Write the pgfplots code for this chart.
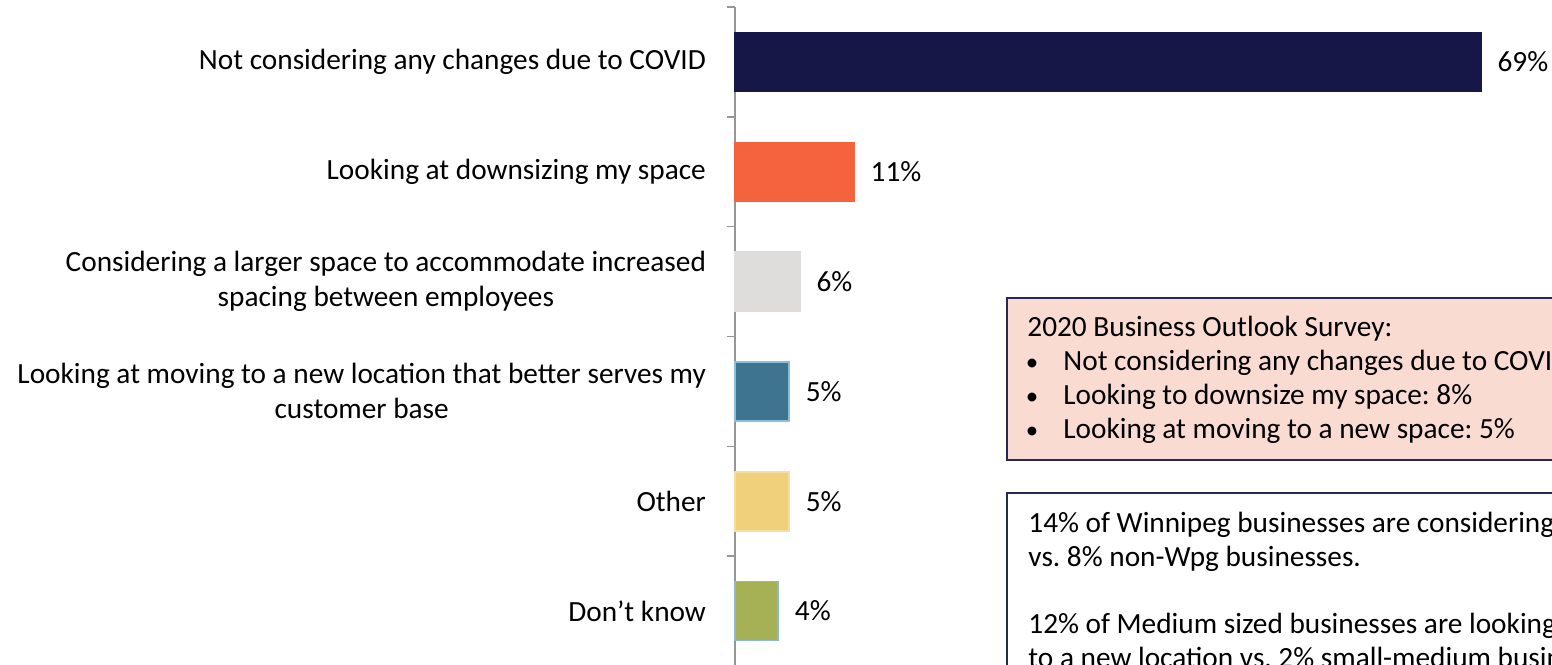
\documentclass[border=0pt]{standalone}
\usepackage{fontspec}
\setmainfont{Carlito}
\usepackage{pgfplots}
\pgfplotsset{compat=1.18}
\frenchspacing

\definecolor{barnavy}{RGB}{23,23,71}
\definecolor{barorange}{RGB}{244,99,61}
\definecolor{bargray}{RGB}{222,221,219}
\definecolor{barteal}{RGB}{62,116,143}
\definecolor{barteale}{RGB}{141,189,216}
\definecolor{baryellow}{RGB}{241,208,124}
\definecolor{baryellowe}{RGB}{246,222,160}
\definecolor{barolive}{RGB}{166,176,85}
\definecolor{barolivee}{RGB}{141,184,208}
\definecolor{axisgray}{RGB}{150,150,150}
\definecolor{boxpink}{RGB}{250,219,210}
\definecolor{boxline}{RGB}{40,40,85}

\newcommand{\lbl}{\fontsize{14.65}{17.5}\selectfont}

\begin{document}
\begin{tikzpicture}
\useasboundingbox (0,0) rectangle (776pt,-332pt);
\clip (0,0) rectangle (776pt,-332pt);

\begin{axis}[
  at={(367.5pt,-3.5pt)}, anchor=north west,
  scale only axis, width=408.5pt, height=329.5pt,
  xmin=0, xmax=75.58, ymin=-0.5, ymax=5.5, y dir=reverse,
  axis x line=none, axis y line*=left,
  axis line style={draw=axisgray, line width=0.75pt},
  ytick={-0.5,0.5,...,5.5}, y tick label as interval,
  yticklabels={
    Not considering any changes due to COVID,
    Looking at downsizing my space,
    {Considering a larger space to accommodate increased\\spacing between employees},
    {Looking at moving to a new location that better serves my\\customer base},
    Other,
    Don’t know},
  tick align=outside, major tick length=4pt,
  y tick style={draw=axisgray, line width=0.75pt},
  yticklabel style={font=\lbl, align=center, text=black, xshift=-7pt},
  xbar,
  point meta=x,
  /pgf/number format/assume math mode=true,
  nodes near coords={\pgfmathprintnumber{\pgfplotspointmeta}\%},
  nodes near coords style={font=\lbl, anchor=west, inner sep=0pt, xshift=8pt, text=black},
  onebar/.style={xbar, bar shift=0pt, bar width=29.5pt, line width=0.75pt},
  clip=false,
]
\addplot[onebar, fill=barnavy, draw=barnavy] coordinates {(69,0)};
\addplot[onebar, fill=barorange, draw=barorange] coordinates {(11,1)};
\addplot[onebar, fill=bargray, draw=bargray] coordinates {(6,2)};
\addplot[onebar, fill=barteal, draw=barteale] coordinates {(5,3)};
\addplot[onebar, fill=baryellow, draw=baryellowe] coordinates {(5,4)};
\addplot[onebar, fill=barolive, draw=barolivee] coordinates {(4,5)};
\end{axis}

% comparison notes on the right
\begin{scope}[x=0.5pt,y=-0.5pt, every node/.style={font=\lbl, inner sep=0pt, text=black}]
\draw[fill=boxpink, draw=boxline, line width=1pt] (1007,298) rectangle (1620,460);
\node[anchor=base west] at (1027,336) {2020 Business Outlook Survey:};
\node[anchor=base, scale=0.85] at (1032,370) {•};
\node[anchor=base west] at (1063,370) {Not considering any changes due to COVID};
\node[anchor=base, scale=0.85] at (1032,404) {•};
\node[anchor=base west] at (1063,404) {Looking to downsize my space: 8\%};
\node[anchor=base, scale=0.85] at (1032,438) {•};
\node[anchor=base west] at (1063,438) {Looking at moving to a new space: 5\%};

\draw[fill=white, draw=boxline, line width=1pt] (1007,493) rectangle (1620,700);
\node[anchor=base west] at (1028,532) {14\% of Winnipeg businesses are considering};
\node[anchor=base west] at (1028,566) {vs. 8\% non-Wpg businesses.};
\node[anchor=base west] at (1028,633) {12\% of Medium sized businesses are looking};
\node[anchor=base west] at (1028,667) {to a new location vs. 2\% small-medium businesses.};
\end{scope}
\end{tikzpicture}
\end{document}
